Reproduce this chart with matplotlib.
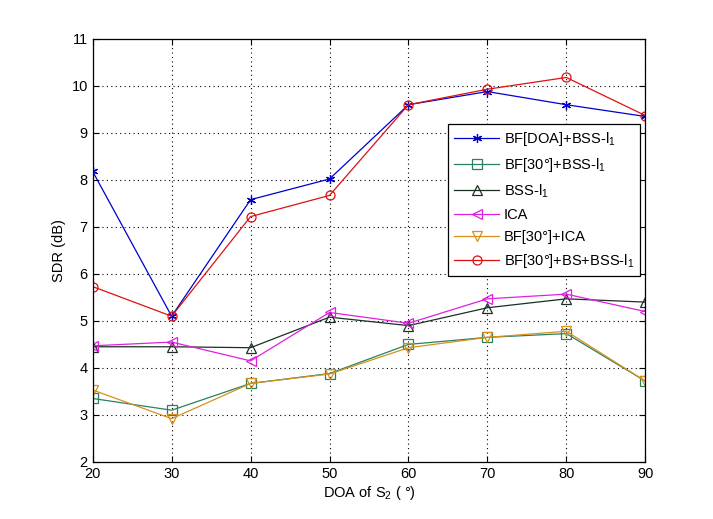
import matplotlib
matplotlib.use('agg')
import matplotlib.pyplot as plt

plt.rcParams['font.family'] = ['Liberation Sans', 'DejaVu Sans']
plt.rcParams['mathtext.default'] = 'regular'

doa = [20, 30, 40, 50, 60, 70, 80, 90]

bf_doa_bss = [8.18, 5.1, 7.58, 8.02, 9.6, 9.88, 9.6, 9.35]
bf30_bss = [3.35, 3.1, 3.67, 3.88, 4.5, 4.65, 4.73, 3.72]
bss_l1 = [4.45, 4.45, 4.43, 5.08, 4.9, 5.28, 5.47, 5.4]
ica = [4.47, 4.55, 4.15, 5.18, 4.95, 5.47, 5.57, 5.2]
bf30_ica = [3.53, 2.92, 3.67, 3.87, 4.43, 4.65, 4.78, 3.72]
bf30_bs_bss = [5.73, 5.1, 7.22, 7.67, 9.6, 9.93, 10.18, 9.37]

series = [
    (bf_doa_bss, 'BF[DOA]+BSS-l$_1$', '#0000d0', (6, 2, 0)),
    (bf30_bss, 'BF[30°]+BSS-l$_1$', '#2a8060', 's'),
    (bss_l1, 'BSS-l$_1$', '#1a3020', '^'),
    (ica, 'ICA', '#e020e0', '<'),
    (bf30_ica, 'BF[30°]+ICA', '#d8901a', 'v'),
    (bf30_bs_bss, 'BF[30°]+BS+BSS-l$_1$', '#dd1010', 'o'),
]

fig = plt.figure(figsize=(7.13, 5.19), dpi=100)
ax = fig.add_axes([0.130, 0.110, 0.775, 0.815])

for vals, lab, col, mk in series:
    ax.plot(doa, vals, color=col, marker=mk, markersize=6.5,
            markerfacecolor='none', markeredgecolor=col,
            linewidth=0.9, markeredgewidth=0.9, label=lab)

ax.set_xlim(20, 90)
ax.set_ylim(2, 11)
ax.set_xticks(doa)
ax.set_yticks(range(2, 12))
ax.tick_params(direction='in', top=True, right=True, labelsize=10.5, length=4)
ax.grid(True, linestyle=(0, (1, 3)), color='black', linewidth=0.8)
for s in ax.spines.values():
    s.set_linewidth(0.9)

ax.set_xlabel('DOA of S$_2$ ( °)', fontsize=10.5, labelpad=2)
ax.set_ylabel('SDR (dB)', fontsize=10.5)

leg = ax.legend(loc='upper right', bbox_to_anchor=(1.003, 0.815), fontsize=10.5,
                fancybox=False, framealpha=1, edgecolor='black',
                handlelength=3.1, handletextpad=0.3, borderpad=0.4,
                labelspacing=0.55, borderaxespad=0.5)
leg.get_frame().set_linewidth(0.9)

fig.savefig('out.png', dpi=100)
